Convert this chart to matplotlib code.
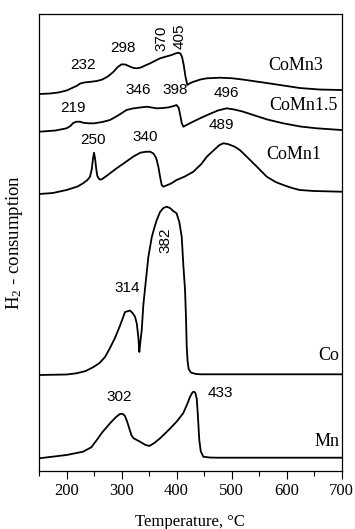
import numpy as np
import matplotlib
matplotlib.use("Agg")
import matplotlib.pyplot as plt
from matplotlib.ticker import MultipleLocator

plt.rcParams['font.family'] = ['Liberation Serif', 'DejaVu Serif']
plt.rcParams['mathtext.fontset'] = 'custom'
plt.rcParams['mathtext.rm'] = 'Liberation Serif'
plt.rcParams['mathtext.it'] = 'Liberation Serif:italic'

#%% DATA (heights in arbitrary units above each baseline)

samples = ['CoMn3', 'CoMn1.5', 'CoMn1', 'Co', 'Mn']
offsets = [378, 340, 278, 97, 13.7]

T_comn3 = [150, 170, 185, 200, 210, 218, 225, 232, 245, 255, 265, 275, 285, 293,
           300, 307, 315, 322, 328, 335, 345, 352, 362, 370, 380, 391, 398, 403,
           407, 410, 413, 416, 419.5, 425, 431, 443, 455, 479, 500, 520, 545,
           564, 594, 624, 660, 700]
h_comn3 = [0, 0.5, 1.5, 3.5, 6, 8, 10.5, 11.5, 12.3, 13, 14.5, 17.5, 22, 27,
           29.7, 29.5, 27.5, 26, 25.7, 26.5, 29, 30.7, 33.5, 35.7, 37.3, 39, 40.5, 41.3,
           40.5, 37, 29, 18, 9, 11, 12.3, 14.5, 15.7, 16.3, 15.8, 14.5, 12.5,
           11, 8.5, 6, 4.5, 4]

T_comn15 = [150, 180, 200, 207, 212, 218, 224.5, 230, 240, 250, 265, 279, 295,
            309, 320, 333, 346, 355, 364, 375, 385, 395, 400, 404, 407, 409.4,
            412.3, 425, 442.6, 460, 475, 491, 505, 520, 539.5, 565, 594, 625,
            654.7, 700]
h_comn15 = [0.3, 1.5, 3.7, 6, 9, 10.3, 10.3, 9.3, 8.7, 8.7, 10, 12, 17,
            22, 23.5, 24.5, 25.3, 24.5, 23.7, 24, 24.6, 26, 27, 24, 16, 9,
            5.3, 9, 13.7, 18, 21.5, 23.7, 22.5, 20.5, 17, 12.5, 8.7, 5.5,
            3.7, 2]

T_comn1 = [150, 175, 200, 220, 230, 238, 242.7, 246, 248, 250, 252, 254, 256,
           260, 264, 270, 279, 291, 305, 321, 334, 345, 352, 358, 363, 367, 370,
           373, 376, 390, 400, 415, 430.5, 445, 455, 470, 478, 485, 493, 505,
           515, 530, 546, 564, 580, 594, 610, 624, 650, 700]
h_comn1 = [0, 1, 4, 7.5, 10.7, 14, 17.3, 25, 35, 41.3, 35, 25, 18,
           14.5, 14.7, 17, 20.7, 25.7, 31, 37.3, 41.3, 42.3, 42.3, 40.5, 36, 27, 17.3,
           9, 7.3, 10.5, 14, 17.5, 22.3, 30, 37.3, 45, 49, 50.7, 50, 47.5,
           44, 36, 27.3, 17.3, 12, 9, 6, 4, 3, 2.3]

T_co = [150, 200, 218, 235, 249, 260, 270, 279, 288, 297, 306.3, 315.4, 320,
        324.5, 327.6, 330.5, 332.3, 334, 336.7, 339.6, 343, 348.7, 355, 360, 364,
        370, 376, 382, 388, 394, 400, 405, 409.4, 412.3, 415.4, 417, 418.5, 420,
        422, 426, 435, 445, 700]
h_co = [0, 0.5, 1.7, 4, 8, 12, 18, 27, 37, 49, 63, 64.5, 62,
        58.3, 51.7, 38.3, 23, 32, 45, 70, 88, 118, 138, 148, 155,
        163, 167, 168.3, 167, 164, 161.7, 153, 138, 110, 85, 60, 28, 14,
        6, 2.5, 1, 0.7, 0.7]

T_mn = [150, 200, 230, 245, 255, 265, 279, 290, 297, 302, 306, 310, 314, 318,
        322, 333.6, 343, 350.5, 360, 370, 385, 400, 412, 420, 424.5, 429, 431.7,
        434, 436.6, 438.5, 441.3, 444, 448.6, 460, 473, 700]
h_mn = [0, 3.3, 6.6, 11, 18.3, 26, 35, 41.3, 44.3, 44.5, 42.5, 37, 30, 23,
        20, 16.6, 13.5, 12.3, 15.5, 20, 28, 36.6, 45, 55, 61.6, 66, 66.6,
        65.5, 60, 45, 18.3, 7, 1.6, 0.8, 0.6, 0.6]

curves_T = [T_comn3, T_comn15, T_comn1, T_co, T_mn]
curves_h = [h_comn3, h_comn15, h_comn1, h_co, h_mn]

# peak temperatures written on the plot
peak_labels = ['232', '298', '370', '405', '346', '398', '496', '219', '489',
               '250', '340', '382', '314', '302', '433']
peak_x = [230.5, 303, 373, 405, 330.5, 397, 491, 212, 482,
          249, 343, 380, 310.5, 295.5, 479]
peak_y = [407, 423.7, 434, 436, 382, 382, 378.7, 363.7, 347,
          332, 335.3, 232, 183.7, 74.7, 78.7]
peak_rot = [0, 0, 90, 90, 0, 0, 0, 0, 0, 0, 0, 90, 0, 0, 0]

# sample name positions (right aligned)
name_x = [665.6, 693.5, 663.8, 695.3, 695.3]
name_y = [407, 367, 318, 117, 30.3]

#%% PLOT
fig = plt.figure(figsize=(3.55, 5.29), dpi=100)
ax = fig.add_axes([0.1099, 0.1102, 0.8524, 0.8633])

for T, h, off in zip(curves_T, curves_h, offsets):
    ax.plot(T, np.array(h) + off, color='black', linewidth=1.3,
            solid_joinstyle='round')

for lab, x, y, r in zip(peak_labels, peak_x, peak_y, peak_rot):
    ax.text(x, y, lab, ha='center', va='center', rotation=r,
            fontsize=11, family=['Liberation Sans', 'DejaVu Sans'])

for name, x, y in zip(samples, name_x, name_y):
    ax.text(x, y, name, ha='right', va='center', fontsize=13)

ax.set_xlim(150, 700)
ax.set_ylim(1.3, 458)
ax.set_yticks([])
ax.xaxis.set_major_locator(MultipleLocator(100))
ax.xaxis.set_minor_locator(MultipleLocator(50))
ax.tick_params(axis='x', which='major', direction='out', length=5.5,
               width=0.8, labelsize=12, pad=3)
ax.tick_params(axis='x', which='minor', direction='out', length=3.5, width=0.8)
for s in ax.spines.values():
    s.set_linewidth(0.9)

ax.set_xlabel('Temperature, °C', fontsize=12, labelpad=11)
ax.set_ylabel('H$_\\mathrm{2}$ - consumption', fontsize=13.5)
ax.yaxis.set_label_coords(-0.045, 0.5)

fig.savefig('out.png', dpi=100)
